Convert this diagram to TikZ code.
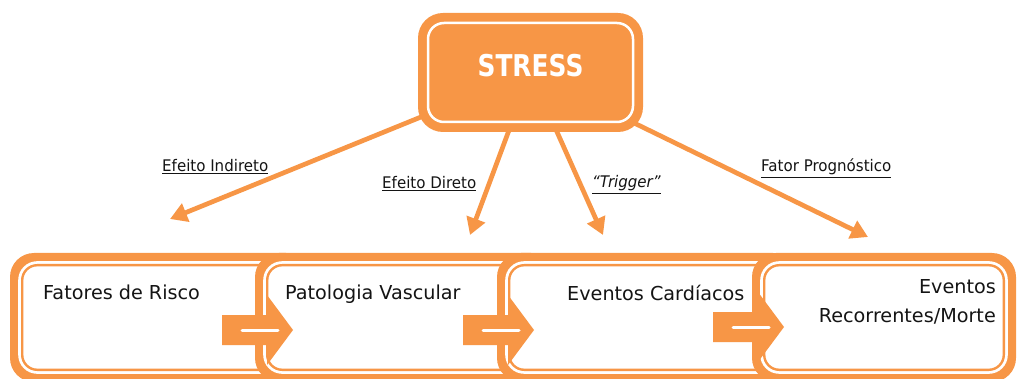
\documentclass[tikz,border=0pt]{standalone}
\usepackage{fontspec}
\setmainfont{DejaVu Sans}
\usetikzlibrary{arrows.meta,backgrounds}
\definecolor{og}{HTML}{F79646}
\definecolor{tx}{HTML}{141414}
\begin{document}
\begin{tikzpicture}[x=1pt,y=-1pt,
  outerbox/.style={fill=og, draw=none, rounded corners=24pt, minimum width=#1, minimum height=129pt, inner sep=0pt},
  innerbox/.style={fill=white, draw=og, line width=2.4pt, rounded corners=15pt, minimum width=#1-24.4pt, minimum height=104.6pt, inner sep=0pt, preaction={draw=white, line width=8pt}},
  stressouter/.style={fill=og, draw=none, rounded corners=25pt, minimum width=225pt, minimum height=119pt, inner sep=0pt},
  stressinner/.style={draw=white, line width=2.5pt, rounded corners=16pt, minimum width=205pt, minimum height=99pt, inner sep=0pt},
  boxtext/.style={text=tx, font=\fontsize{19.2}{23}\selectfont, inner sep=0pt},
  lbl/.style={text=tx, font=\fontsize{16}{19}\selectfont, inner sep=0pt},
  link/.style={draw=og, line width=4.7pt, -{Triangle[length=17pt,width=19pt]}},
  blockarrow/.pic={
    \fill[og] (-35,-15) -- (10,-15) -- (10,-35) -- (36,0) -- (10,35) -- (10,15) -- (-35,15) -- cycle;
    \draw[white, line width=3pt, line cap=round] (-15,0) -- (21,0);
  }
]
\useasboundingbox (0,0) rectangle (1017,379);

% bottom boxes (left edges 10, 255, 497, 752)
\node[outerbox=300pt] (b1o) at (160,317.5) {};
\node[innerbox=300pt] (b1) at (160,317.5) {};
\node[outerbox=300pt] (b2o) at (405,317.5) {};
\node[innerbox=300pt] (b2) at (405,317.5) {};
\node[outerbox=300pt] (b3o) at (647,317.5) {};
\node[innerbox=300pt] (b3) at (647,317.5) {};
\node[outerbox=264pt] (b4o) at (884,317.5) {};
\node[innerbox=264pt] (b4) at (884,317.5) {};

% block arrows between boxes
\pic at (257,330) {blockarrow};
\pic at (498,330) {blockarrow};
\pic at (748,327) {blockarrow};

% box texts
\node[boxtext, anchor=base west] (t1) at (43,300) {Fatores de Risco};
\node[boxtext, anchor=base west] (t2) at (285,300) {Patologia Vascular};
\node[boxtext, anchor=base west] (t3) at (567,301) {Eventos Cardíacos};
\node[boxtext, anchor=base east] (t4a) at (996,294) {Eventos};
\node[boxtext, anchor=base east] (t4b) at (996,323) {Recorrentes/Morte};

% STRESS box
\node[stressouter] (so) at (530.5,72.5) {};
\node[stressinner] (si) at (530.5,72.5) {};
\node[text=white, inner sep=0pt, font=\bfseries\fontsize{30}{30}\selectfont] (st) at (530.5,66) {\scalebox{0.83}[1]{STRESS}};

% arrow tips
\coordinate (a1) at (170,219);
\coordinate (a2) at (470,235);
\coordinate (a3) at (603,235);
\coordinate (a4) at (868,237);

\begin{scope}[on background layer]
  \draw[link] (so.center) -- (a1);
  \draw[link] (so.center) -- (a2);
  \draw[link] (so.center) -- (a3);
  \draw[link] (so.center) -- (a4);
\end{scope}

% labels
\node[lbl, anchor=base west] (l1) at (162,172) {\underline{\scalebox{0.94}[1]{Efeito Indireto}}};
\node[lbl, anchor=base west] (l2) at (382,189) {\underline{\scalebox{0.94}[1]{Efeito Direto}}};
\node[lbl, anchor=base west] (l3) at (592,188) {\underline{\scalebox{0.94}[1]{\itshape “Trigger”}}};
\node[lbl, anchor=base west] (l4) at (761,172) {\underline{\scalebox{0.94}[1]{Fator Prognóstico}}};
\end{tikzpicture}
\end{document}
